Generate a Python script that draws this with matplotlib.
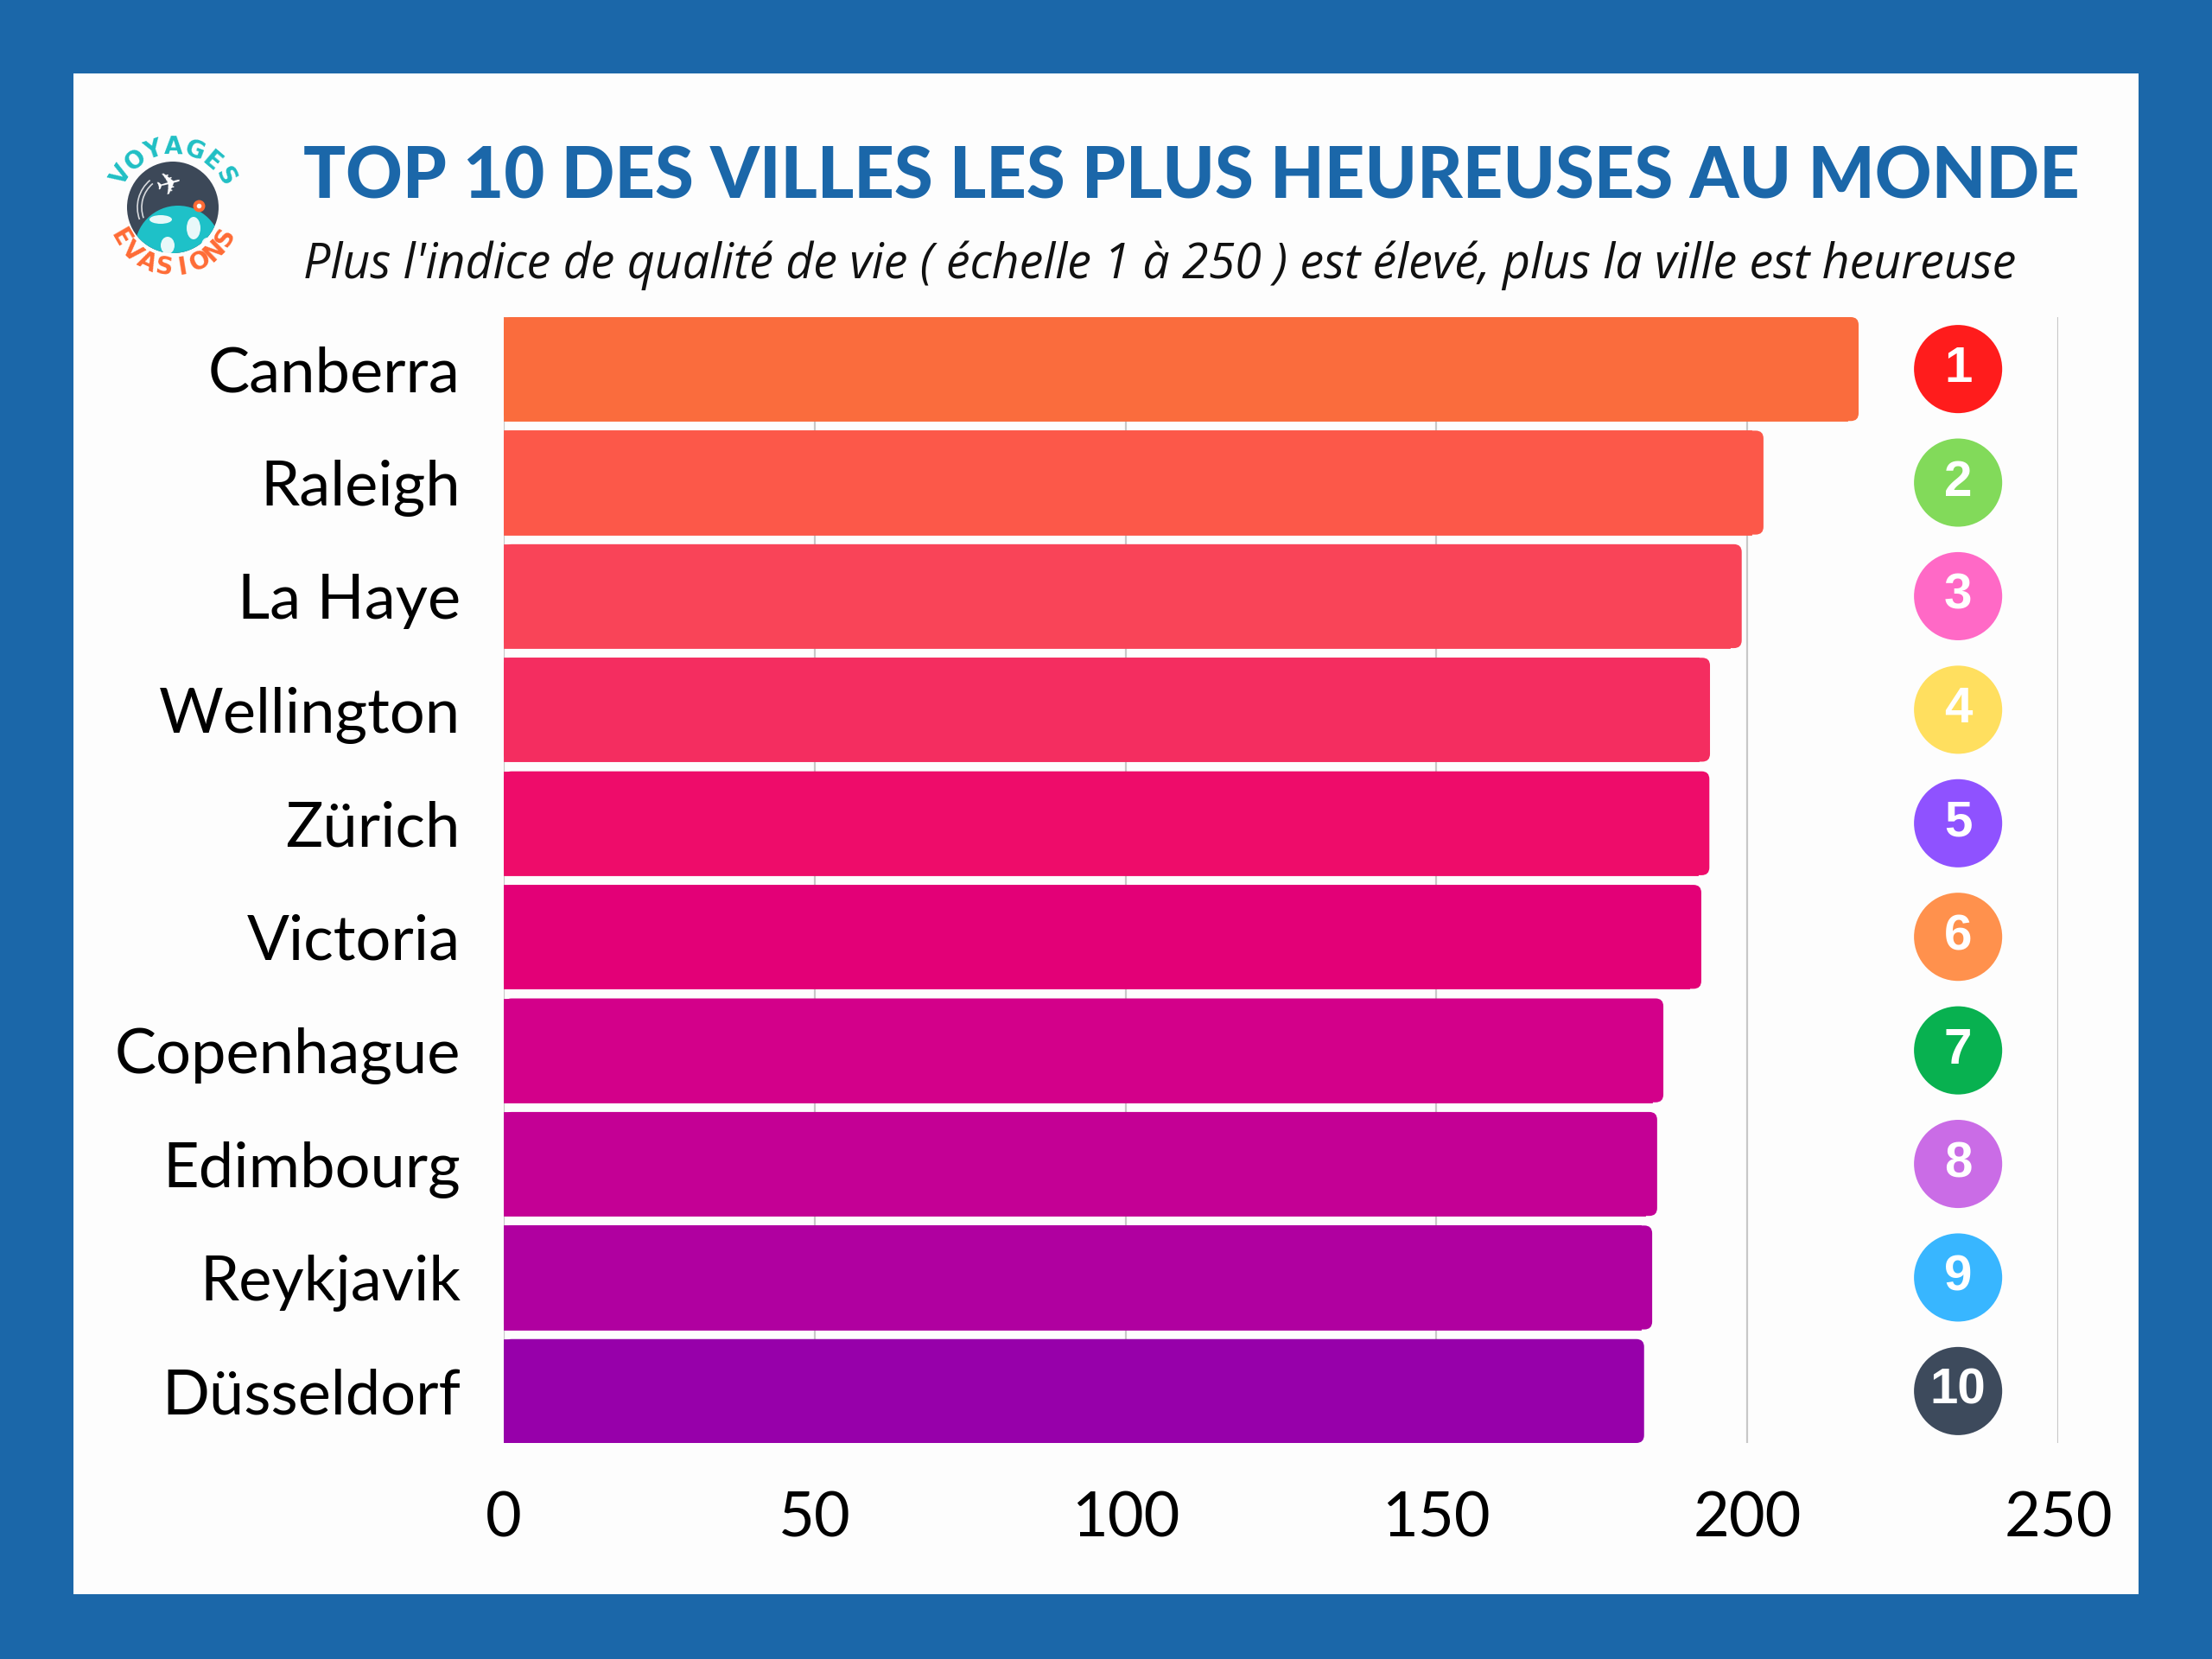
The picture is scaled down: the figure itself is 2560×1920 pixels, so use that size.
#!/usr/bin/env python3
"""
Top 10 des villes les plus heureuses au monde - horizontal bar chart
"""

import numpy as np
import matplotlib
matplotlib.use('Agg')
import matplotlib.pyplot as plt
from matplotlib.patches import Rectangle, Circle, FancyBboxPatch, Ellipse, Arc

# Data
cities = ['Canberra', 'Raleigh', 'La Haye', 'Wellington', 'Zürich',
          'Victoria', 'Copenhague', 'Edimbourg', 'Reykjavik', 'Düsseldorf']
scores = [217.9, 202.6, 199.1, 194.0, 193.9, 192.6, 186.5, 185.5, 184.7, 183.4]
ranks = ['1', '2', '3', '4', '5', '6', '7', '8', '9', '10']
bar_colors = ['#FA6C3D', '#FC5849', '#F94458', '#F42D60', '#EE0C6A',
              '#E30077', '#D3008A', '#C40095', '#B000A0', '#9700AA']
badge_colors = ['#FF1C1C', '#82DA5A', '#FF69C6', '#FFDF5F', '#8F52FF',
                '#FF914D', '#08B150', '#CA6CE6', '#38B6FF', '#3D4A5C']
x_ticks = [0, 50, 100, 150, 200, 250]

W, H = 2560, 1920
BLUE = '#1B67A9'
FONT = 'Lato'

fig = plt.figure(figsize=(W / 100, H / 100), dpi=100)
fig.patch.set_facecolor(BLUE)

# white panel
fig.patches.append(Rectangle((85 / W, 1 - 1845 / H), (2475 - 85) / W, (1845 - 85) / H,
                             transform=fig.transFigure, facecolor='#FDFDFD',
                             edgecolor='none', zorder=-5))

# title + subtitle
fig.text(351 / W, 1 - 229 / H, 'TOP 10 DES VILLES LES PLUS HEUREUSES AU MONDE',
         fontsize=58.5, fontweight='black', family=FONT, color=BLUE,
         ha='left', va='baseline')
fig.text(351 / W, 1 - 322 / H,
         "Plus l'indice de qualité de vie ( échelle 1 à 250 ) est élevé, plus la ville est heureuse",
         fontsize=40, fontstyle='italic', family='Open Sans', color='#111111',
         ha='left', va='baseline')

# main axes
left, right = 583 / W, 2382 / W
bottom, top = 1 - 1670 / H, 1 - 367 / H
ax = fig.add_axes([left, bottom, right - left, top - bottom])
ax.set_facecolor('none')

bh = 0.915
y = np.arange(len(cities))
ax.set_xlim(0, 250)
ax.set_ylim(len(cities) - 1 + bh / 2, -bh / 2)

for xt in x_ticks:
    ax.axvline(xt, color='#C8C8C8', linewidth=1.6, zorder=1)

# bars with slightly rounded right ends
x_px = (right - left) * W / 250
y_px = (top - bottom) * H / (len(cities) - 1 + bh)
r = 9 / x_px
for yi, v, c in zip(y, scores, bar_colors):
    ax.add_patch(FancyBboxPatch((0, yi - bh / 2), v, bh,
                                boxstyle=f'round,pad=0,rounding_size={r}',
                                mutation_aspect=(9 / y_px) / r,
                                facecolor=c, edgecolor='none', zorder=2))
    ax.barh(yi, v - 1.5 * r, height=bh, color=c, edgecolor=c, linewidth=0.6, zorder=2)

# rank badges
badge_x = 233.9
ax.scatter([badge_x] * len(ranks), y, s=5400, c=badge_colors, zorder=3,
           clip_on=False, linewidths=0)
for yi, rk in zip(y, ranks):
    ax.text(badge_x, yi, rk, ha='center', va='center', color='white',
            fontsize=42, fontweight='bold', family='Liberation Sans', zorder=4)

ax.set_yticks(y)
ax.set_yticklabels(cities, fontsize=52, family=FONT)
ax.set_xticks(x_ticks)
ax.set_xticklabels([str(t) for t in x_ticks], fontsize=52, family=FONT)
ax.tick_params(axis='y', length=0, pad=36)
ax.tick_params(axis='x', length=0, pad=40)
for s in ax.spines.values():
    s.set_visible(False)

# logo
lax = fig.add_axes([110 / W, 1 - 330 / H, 180 / W, 180 / H])
lax.set_xlim(-90, 90)
lax.set_ylim(-90, 90)
lax.set_aspect('equal')
lax.axis('off')
dark = Circle((0, 0), 53, facecolor='#3C4858', edgecolor='none')
lax.add_patch(dark)
globe = Circle((6, -48), 50, facecolor='#1EC1C8', edgecolor='none')
lax.add_patch(globe)
globe.set_clip_path(dark)
for (gx, gy, gw, gh) in [(-14, -14, 26, 10), (24, -24, 16, 26), (-6, -44, 16, 20),
                         (40, -44, 14, 18)]:
    e = Ellipse((gx, gy), gw, gh, facecolor='white', edgecolor='none', alpha=0.9)
    lax.add_patch(e)
    e.set_clip_path(globe)
for rr in [36, 41]:
    lax.add_patch(Arc((0, 0), 2 * rr, 2 * rr, theta1=130, theta2=200,
                      color='white', linewidth=1.2, alpha=0.8))
lax.plot([30], [2], marker='o', color='#FF6B35', markersize=9)
lax.plot([30], [2], marker='o', color='white', markersize=3)
lax.text(-4, 26, '\u2708', color='white', fontsize=26, ha='center', va='center',
         family='DejaVu Sans', rotation=15)


def arc_text(txt, r, a0, a1, color, top_side):
    angs = np.linspace(a0, a1, len(txt))
    for ch, a in zip(txt, angs):
        rad = np.deg2rad(a)
        rot = a - 90 if top_side else a + 90
        lax.text(r * np.cos(rad), r * np.sin(rad), ch, color=color,
                 fontsize=20, fontweight='bold', family='DejaVu Sans',
                 rotation=rot, ha='center', va='center')


arc_text('VOYAGES', 70, 148, 30, '#20BFC4', True)
arc_text('EVASIONS', 70, 210, 331, '#FF6B35', False)

fig.savefig('out.png', dpi=100, facecolor=fig.get_facecolor())
